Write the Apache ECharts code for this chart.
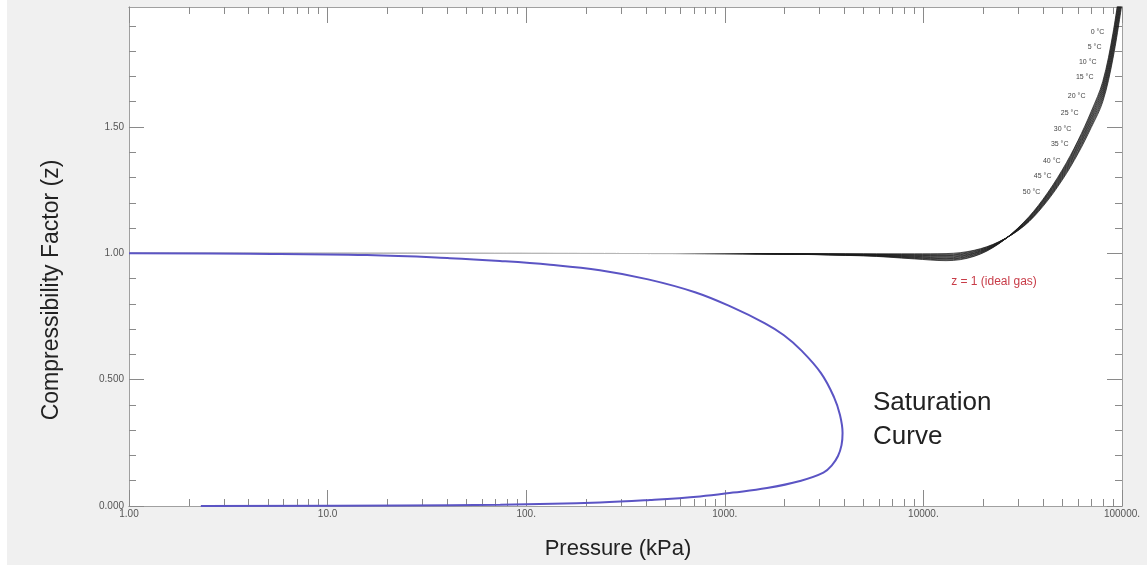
<!DOCTYPE html>
<html>
<head>
<meta charset="utf-8">
<script src="https://cdn.jsdelivr.net/npm/echarts@6/dist/echarts.min.js"></script>
<title>Compressibility Factor</title>
<style>
  * { margin: 0; padding: 0; box-sizing: border-box; }
  html, body { width: 1147px; height: 565px; background: #fff; overflow: hidden; }
  #chart { width: 1147px; height: 565px; }
</style>
</head>
<body>
<div id="chart"></div>
<script>
// saturation curve: vapour branch (P=1 up to critical point), then liquid branch back down
var satP = [1, 4.07, 15.8, 41.3, 73.8, 132, 235, 411, 708, 1087, 1593, 1985, 2419, 3050, 3546, 3802, 3917,
            3870, 3715, 3467, 3137, 2392, 1631, 1099, 750, 420, 235, 74, 23, 2.3];
var satZ = [1.000, 0.998, 0.993, 0.981, 0.970, 0.955, 0.933, 0.897, 0.846, 0.787, 0.723, 0.676, 0.617, 0.526, 0.431, 0.360, 0.289,
            0.241, 0.198, 0.162, 0.132, 0.099, 0.071, 0.053, 0.038, 0.024, 0.014, 0.005, 0.002, 0.000];

// isotherms, all sampled at the same pressures (kPa)
var isoTemps = [0, 5, 10, 15, 20, 25, 30, 35, 40, 45, 50];
var isoP = [1, 1000, 5000, 9000, 13000, 18000, 24000, 32000, 40000, 50000, 60000, 70000, 80000, 90000, 100000];
var isoZ = [
  [1.000, 0.999, 0.990, 0.978, 0.971, 0.988, 1.038, 1.123, 1.214, 1.330, 1.446, 1.562, 1.680, 1.870, 2.110], // 0
  [1.000, 0.999, 0.991, 0.980, 0.974, 0.990, 1.039, 1.121, 1.211, 1.326, 1.441, 1.556, 1.672, 1.860, 2.098], // 5
  [1.000, 0.999, 0.992, 0.982, 0.977, 0.993, 1.040, 1.120, 1.208, 1.322, 1.436, 1.549, 1.664, 1.850, 2.086], // 10
  [1.000, 0.999, 0.992, 0.984, 0.979, 0.995, 1.040, 1.118, 1.206, 1.318, 1.430, 1.543, 1.656, 1.840, 2.074], // 15
  [1.000, 0.999, 0.993, 0.986, 0.982, 0.998, 1.041, 1.117, 1.203, 1.314, 1.425, 1.536, 1.648, 1.830, 2.062], // 20
  [1.000, 0.999, 0.994, 0.988, 0.985, 1.000, 1.042, 1.115, 1.200, 1.310, 1.420, 1.530, 1.640, 1.820, 2.050], // 25
  [1.000, 0.999, 0.995, 0.990, 0.988, 1.002, 1.043, 1.113, 1.197, 1.306, 1.415, 1.524, 1.632, 1.810, 2.038], // 30
  [1.000, 0.999, 0.996, 0.992, 0.991, 1.005, 1.044, 1.112, 1.194, 1.302, 1.410, 1.517, 1.624, 1.800, 2.026], // 35
  [1.000, 0.999, 0.996, 0.994, 0.993, 1.007, 1.044, 1.110, 1.192, 1.298, 1.404, 1.511, 1.616, 1.790, 2.014], // 40
  [1.000, 0.999, 0.997, 0.996, 0.996, 1.010, 1.045, 1.109, 1.189, 1.294, 1.399, 1.504, 1.608, 1.780, 2.002], // 45
  [1.000, 0.999, 0.998, 0.998, 0.999, 1.012, 1.046, 1.107, 1.186, 1.290, 1.394, 1.498, 1.600, 1.770, 1.990]  // 50
];
// where each temperature tag sits (P, z), tag is drawn to the left of it
var isoTagP = [83000, 80200, 75700, 73100, 66600, 61400, 56600, 54700, 49900, 44900, 39500];
var isoTagZ = [1.877, 1.818, 1.759, 1.696, 1.621, 1.557, 1.490, 1.431, 1.364, 1.304, 1.241];

// tick labels
var xTicks = [1, 10, 100, 1000, 10000, 100000];
var xTickLabels = ['1.00', '10.0', '100.', '1000.', '10000.', '100000.'];
var yTicks = [0, 0.5, 1, 1.5];
var yTickLabels = ['0.000', '0.500', '1.00', '1.50'];

var xMinor = [];
for (var d = 0; d < 5; d++) {
  for (var m = 2; m <= 9; m++) xMinor.push(m * Math.pow(10, d));
}
var yMinor = [];
for (var k = 1; k < 20; k++) {
  if (k % 5 !== 0) yMinor.push(k / 10);
}

var frameColor = '#a0a0a0';
var tickColor = '#8a8a8a';
var font = 'Liberation Sans, Arial, sans-serif';

function xAxisPart(pos, ticks, len, withLabels) {
  return {
    type: 'log', logBase: 10, min: 1, max: 100000, position: pos,
    axisLine: { show: true, onZero: false, lineStyle: { color: frameColor, width: 1 } },
    axisTick: { show: true, inside: true, length: len, customValues: ticks, lineStyle: { color: tickColor } },
    axisLabel: withLabels ? {
      show: true, customValues: xTicks, margin: 3, fontSize: 10, color: '#555', fontFamily: font,
      formatter: function (v) { var i = xTicks.indexOf(Math.round(v)); return i >= 0 ? xTickLabels[i] : ''; }
    } : { show: false },
    splitLine: { show: false },
    minorTick: { show: false }
  };
}
function yAxisPart(pos, ticks, len, withLabels) {
  return {
    type: 'value', min: 0, max: 1.975, position: pos,
    axisLine: { show: true, onZero: false, lineStyle: { color: frameColor, width: 1 } },
    axisTick: { show: true, inside: true, length: len, customValues: ticks, lineStyle: { color: tickColor } },
    axisLabel: withLabels ? {
      show: true, customValues: yTicks, margin: 5, fontSize: 10, color: '#555', fontFamily: font,
      formatter: function (v) {
        for (var i = 0; i < yTicks.length; i++) if (Math.abs(yTicks[i] - v) < 1e-6) return yTickLabels[i];
        return '';
      }
    } : { show: false },
    splitLine: { show: false },
    minorTick: { show: false }
  };
}

var series = [];
isoTemps.forEach(function (t, i) {
  series.push({
    name: t + ' °C',
    type: 'line',
    xAxisIndex: 0, yAxisIndex: 0,
    data: isoP.map(function (p, j) { return [p, isoZ[i][j]]; }),
    showSymbol: false,
    smooth: 0.35,
    z: 2,
    lineStyle: {
      width: 0.9,
      opacity: 0.85,
      color: {
        type: 'linear', x: 0, y: 0, x2: 1, y2: 0,
        colorStops: [
          { offset: 0, color: '#bdbdbd' },
          { offset: 0.55, color: '#b5b5b5' },
          { offset: 0.63, color: '#1a1a1a' },
          { offset: 1, color: '#1a1a1a' }
        ]
      }
    },
    markPoint: {
      silent: true,
      symbol: 'circle',
      symbolSize: 1,
      itemStyle: { color: 'rgba(0,0,0,0)' },
      label: {
        show: true, position: 'left', distance: 1,
        fontSize: 7, color: '#444', fontFamily: font,
        formatter: t + ' °C'
      },
      data: [{ coord: [isoTagP[i], isoTagZ[i]] }]
    }
  });
});
series.push({
  name: 'Saturation',
  type: 'line',
  xAxisIndex: 0, yAxisIndex: 0,
  data: satP.map(function (p, j) { return [p, satZ[j]]; }),
  showSymbol: false,
  smooth: 0.4,
  z: 3,
  lineStyle: { width: 2, color: '#5b54c4' }
});

var option = {
  animation: false,
  backgroundColor: '#f0f0f0',
  grid: {
    left: 129, right: 25, top: 7, bottom: 59,
    show: true, backgroundColor: '#ffffff', borderWidth: 0
  },
  xAxis: [
    xAxisPart('bottom', xTicks, 16, true),
    xAxisPart('bottom', xMinor, 7, false),
    xAxisPart('top', xTicks, 16, false),
    xAxisPart('top', xMinor, 7, false)
  ],
  yAxis: [
    yAxisPart('left', yTicks, 15, true),
    yAxisPart('left', yMinor, 7, false),
    yAxisPart('right', yTicks, 15, false),
    yAxisPart('right', yMinor, 7, false)
  ],
  graphic: [
    { type: 'rect', left: 0, top: 0, shape: { width: 7, height: 565 }, style: { fill: '#ffffff' } },
    {
      type: 'text', x: 52, y: 290, rotation: Math.PI / 2,
      style: { text: 'Compressibility Factor (z)', fontSize: 23, fontFamily: font, fill: '#222', align: 'center', verticalAlign: 'middle' }
    },
    {
      type: 'text', x: 618, y: 549,
      style: { text: 'Pressure (kPa)', fontSize: 22, fontFamily: font, fill: '#222', align: 'center', verticalAlign: 'middle' }
    },
    {
      type: 'text', x: 994, y: 282,
      style: { text: 'z = 1 (ideal gas)', fontSize: 12, fontFamily: font, fill: '#c83c48', align: 'center', verticalAlign: 'middle' }
    },
    {
      type: 'text', x: 873, y: 403,
      style: { text: 'Saturation', fontSize: 26, fontFamily: font, fill: '#222', align: 'left', verticalAlign: 'middle' }
    },
    {
      type: 'text', x: 873, y: 437,
      style: { text: 'Curve', fontSize: 26, fontFamily: font, fill: '#222', align: 'left', verticalAlign: 'middle' }
    }
  ],
  series: series
};

var chart = echarts.init(document.getElementById('chart'));
chart.setOption(option);
</script>
</body>
</html>
